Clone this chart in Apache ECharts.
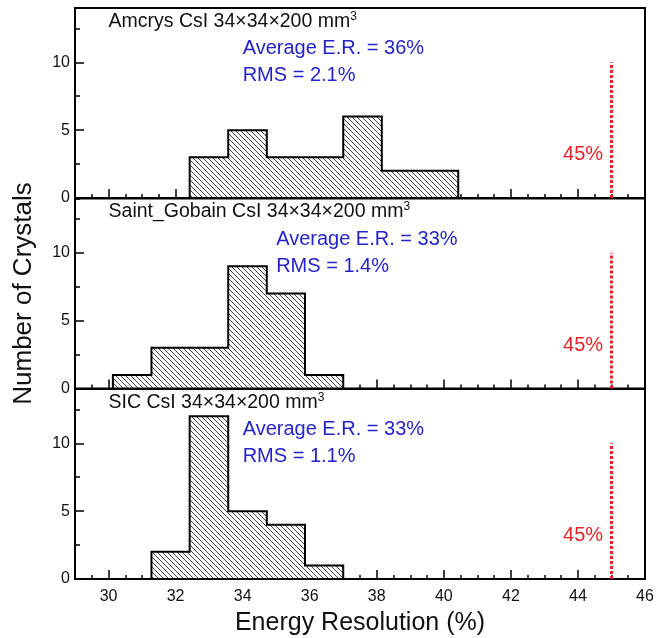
<!DOCTYPE html>
<html>
<head>
<meta charset="utf-8">
<script src="https://cdn.jsdelivr.net/npm/echarts@6/dist/echarts.min.js"></script>
<style>html,body{margin:0;padding:0;background:#fff;}#c{width:665px;height:638px;}</style>
</head>
<body>
<div id="c"></div>
<script>
// ---- data ----
const edgesAmcrys = [32.42, 33.57, 34.72, 35.86, 37.00, 38.15, 39.29, 40.43];
const countsAmcrys = [3, 5, 3, 3, 6, 2, 2];
const edgesSG = [30.13, 31.28, 32.42, 33.57, 34.72, 35.86, 37.00];
const countsSG = [1, 3, 3, 9, 7, 1];
const edgesSIC = [31.28, 32.42, 33.57, 34.72, 35.86, 37.00];
const countsSIC = [2, 12, 5, 4, 1];
const titles = ['Amcrys CsI 34×34×200 mm', 'Saint_Gobain CsI 34×34×200 mm', 'SIC CsI 34×34×200 mm'];
const averages = ['Average E.R. = 36%', 'Average E.R. = 33%', 'Average E.R. = 33%'];
const rmsTexts = ['RMS = 2.1%', 'RMS = 1.4%', 'RMS = 1.1%'];
const limitValue = 45;
const limitTop = 10;
const xTickLabels = [30, 32, 34, 36, 38, 40, 42, 44, 46];

const FONT = 'Liberation Sans, Arial, Helvetica, sans-serif';
const BLUE = '#2323c8';
const RED = '#e3232a';

function hatch() {
  const s = 5;
  const c = document.createElement('canvas');
  c.width = s; c.height = s;
  const g = c.getContext('2d');
  g.fillStyle = '#fff'; g.fillRect(0, 0, s, s);
  g.strokeStyle = '#444'; g.lineWidth = 1;
  g.beginPath();
  g.moveTo(-1, -1); g.lineTo(s + 1, s + 1);
  g.moveTo(s - 1, -1); g.lineTo(s + 1, 1);
  g.moveTo(-1, s - 1); g.lineTo(1, s + 1);
  g.stroke();
  return c;
}
const pattern = { image: hatch(), repeat: 'repeat' };

const panels = [
  { edges: edgesAmcrys, counts: countsAmcrys, avgX: 34 },
  { edges: edgesSG, counts: countsSG, avgX: 35 },
  { edges: edgesSIC, counts: countsSIC, avgX: 34 }
];
const gridTops = [8, 198.5, 389];

const grids = [], xAxes = [], yAxes = [], series = [];
panels.forEach((p, i) => {
  grids.push({ left: 75, width: 570, top: gridTops[i], height: 190, show: true, borderColor: '#000', borderWidth: 2, backgroundColor: 'transparent' });
  // minor x ticks
  xAxes.push({ gridIndex: i, type: 'value', position: 'bottom', offset: 0, min: 29, max: 46, interval: 0.5,
    axisLine: { show: false }, splitLine: { show: false }, axisLabel: { show: false },
    axisTick: { inside: true, length: 4, lineStyle: { color: '#000', width: 1.5 } } });
  // major x ticks + labels
  xAxes.push({ gridIndex: i, type: 'value', position: 'bottom', offset: 0, min: 29, max: 46, splitNumber: 8, minInterval: 2, maxInterval: 2,
    axisLine: { show: false }, splitLine: { show: false },
    axisTick: { inside: true, length: 9, lineStyle: { color: '#000', width: 1.5 } },
    axisLabel: { show: i === 2, showMinLabel: false, showMaxLabel: true, margin: 10,
      fontFamily: FONT, fontSize: 16, color: '#111',
      formatter: v => xTickLabels.indexOf(v) >= 0 ? String(v) : '' },
    name: i === 2 ? 'Energy Resolution (%)' : '', nameLocation: 'middle', nameGap: 32,
    nameTextStyle: { fontFamily: FONT, fontSize: 25, color: '#111' } });
  // minor y ticks
  yAxes.push({ gridIndex: i, type: 'value', position: 'left', offset: 0, min: 0, max: 14, interval: 2.5,
    axisLine: { show: false }, splitLine: { show: false }, axisLabel: { show: false },
    axisTick: { inside: true, length: 5, lineStyle: { color: '#000', width: 1.5 } } });
  // major y ticks + labels
  yAxes.push({ gridIndex: i, type: 'value', position: 'left', offset: 0, min: 0, max: 14, interval: 5,
    axisLine: { show: false }, splitLine: { show: false },
    axisTick: { inside: true, length: 9, lineStyle: { color: '#000', width: 1.5 } },
    axisLabel: { showMaxLabel: false, margin: 5, fontFamily: FONT, fontSize: 16, color: '#111' },
    name: i === 1 ? 'Number of Crystals' : '', nameLocation: 'middle', nameGap: 38,
    nameTextStyle: { fontFamily: FONT, fontSize: 26, color: '#111' } });

  const xi = i * 2 + 1, yi = i * 2 + 1;
  // histogram
  series.push({ type: 'custom', xAxisIndex: xi, yAxisIndex: yi, silent: true, z: 2,
    data: [[p.edges[0], 0]],
    encode: { x: 0, y: 1 },
    renderItem: (params, api) => {
      const pts = [api.coord([p.edges[0], 0])];
      p.counts.forEach((c, k) => {
        pts.push(api.coord([p.edges[k], c]));
        pts.push(api.coord([p.edges[k + 1], c]));
      });
      pts.push(api.coord([p.edges[p.edges.length - 1], 0]));
      return { type: 'polygon', shape: { points: pts },
        style: { fill: pattern, stroke: '#000', lineWidth: 2 } };
    } });
  // 45% limit line
  series.push({ type: 'line', xAxisIndex: xi, yAxisIndex: yi, silent: true, symbol: 'none', z: 3,
    data: [[limitValue, 0], [limitValue, limitTop]],
    lineStyle: { color: RED, width: 3, type: [3, 2] } });
  // annotations
  series.push({ type: 'scatter', xAxisIndex: xi, yAxisIndex: yi, silent: true, symbolSize: 0, z: 4,
    itemStyle: { opacity: 1 },
    label: { show: true, position: 'right', distance: 0, fontFamily: FONT, fontSize: 20, opacity: 1 },
    data: [
      { value: [30, 13], label: { formatter: '{t|' + titles[i] + '}{s|3}', color: '#111',
          rich: { t: { fontFamily: FONT, fontSize: 19.5, color: '#111', lineHeight: 22 },
                  s: { fontFamily: FONT, fontSize: 12, color: '#111', verticalAlign: 'top', lineHeight: 12 } } } },
      { value: [p.avgX, 11], label: { formatter: averages[i], color: BLUE } },
      { value: [p.avgX, 9], label: { formatter: rmsTexts[i], color: BLUE } },
      { value: [44.75, 3.2], label: { formatter: limitValue + '%', color: RED, position: 'left' } }
    ] });
});

const chart = echarts.init(document.getElementById('c'), null, { renderer: 'canvas' });
chart.setOption({ animation: false, backgroundColor: '#fff', grid: grids, xAxis: xAxes, yAxis: yAxes, series: series });
</script>
</body>
</html>
